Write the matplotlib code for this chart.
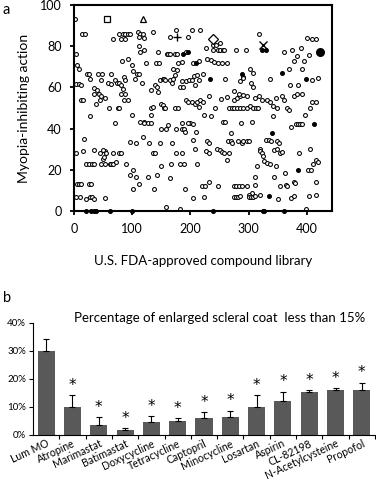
import matplotlib
matplotlib.use("Agg")
import matplotlib.pyplot as plt
import matplotlib.transforms as mtransforms
import numpy as np

plt.rcParams['font.family'] = ['Lato', 'DejaVu Sans']

# ---- panel a: screening scatter (compound index, myopia-inhibiting action) ----
open_x = [1, 14, 19, 67, 81, 88, 78, 84, 88, 92, 96, 110, 113, 118, 112, 120, 135, 165, 175, 196, 202,
          4, 5, 8, 112, 120, 113, 83, 93, 99, 101, 123, 141, 146, 144, 159, 162, 164, 173, 176, 193, 179, 185, 205, 170,
          3, 8, 12, 22, 25, 27, 34, 39, 35, 41, 48, 46, 43, 46, 64, 58, 64, 70, 73, 77, 81, 81, 87, 84, 85, 88,
          104, 108, 112, 116, 133, 139, 142, 148, 152, 155, 157, 145, 165, 170, 173, 176, 168, 185, 182, 188, 192,
          198, 202, 206, 211, 215, 208,
          12, 15, 28, 38, 44, 53, 60, 76, 78, 70, 85, 92, 99, 113, 120, 127, 133, 135, 150, 153, 155, 157, 173, 179,
          200, 205, 193, 196, 202, 208, 211, 215,
          216, 239, 244, 250, 239, 248, 251, 255, 258, 227, 278, 296, 318, 400, 408, 415, 360, 375, 389, 377, 383,
          395, 403, 228, 235, 241, 248, 254, 262, 215, 303, 307, 291, 370, 392, 337, 409, 419, 371, 385, 222, 260,
          285, 291, 304, 307, 216, 222, 231, 242, 252, 262, 274, 280, 285, 291, 297, 274, 283, 267, 271, 275, 280,
          285, 291, 297, 303, 307, 313, 316, 311, 317, 323, 331, 337, 342, 349, 342, 346, 357, 360, 366, 369, 377,
          383, 392, 409, 415, 406, 396, 223, 235, 255, 259, 287, 305, 372, 381, 385, 388, 392,
          2.6, 4, 9.5, 5, 8, 12, 18, 15, 20, 25, 25.6, 29.6, 20, 27, 31, 35, 34, 31, 34, 47, 50, 52.6, 54, 51, 55.5,
          61, 64, 67, 72, 44, 50, 67, 77, 80, 53, 90, 96, 97, 101, 106, 101, 107, 112, 118, 120, 133, 133, 127, 129,
          136, 139, 137, 142, 147, 149, 150, 158, 162, 165, 166, 169, 158, 175, 186, 189, 175, 185, 182, 189, 185,
          196, 182, 190, 209, 205, 208, 211, 204,
          191, 228, 231, 227, 231, 246, 250, 254, 258, 267, 262, 265, 269, 271, 270, 282, 288, 291, 297, 301, 319,
          320, 323, 324, 327, 332, 336, 314, 330, 334, 338, 348, 352, 343, 348, 354, 357, 346, 386, 406, 411, 415,
          419, 401, 407, 311, 311, 306, 300, 363, 343, 354, 364, 366, 377, 380, 415, 219, 225, 232, 247, 275, 279,
          284, 288, 297, 223, 275, 279, 281, 285, 301, 304, 307, 311, 320, 350, 372, 377, 403, 415, 399]
open_y = [93, 86, 86, 83.5, 83.5, 83.5, 86, 86, 86, 86, 86, 87, 86, 86, 84.5, 84, 87, 84.5, 88, 84.3, 88,
          76, 71, 69, 80, 78, 77, 73, 74, 71, 68, 72, 72, 72, 77, 76, 76, 76, 76, 76, 77, 72, 72.5, 71.7, 69,
          61.6, 61.6, 61, 66.5, 66.5, 64, 59.5, 58.7, 57, 66.5, 66.5, 63.6, 57, 56, 66.5, 62, 61.6, 63.6, 62, 62,
          61, 57, 57, 59, 65, 63.6,
          64, 66.5, 66.5, 62, 58.7, 61, 60, 63.6, 64, 64, 63.6, 58, 63.6, 64, 66, 68.5, 62, 63, 60, 60, 63,
          63.6, 63.6, 65.5, 66, 63.6, 61,
          54, 54, 46, 52, 54, 55, 50, 50, 50, 42.5, 54, 54, 46.6, 43, 43, 42.5, 50, 50.6, 52, 51.5, 50, 50, 50, 50,
          42.5, 42.2, 54, 53, 53, 52, 53, 50.6,
          88, 80.6, 80.6, 81.5, 78, 78, 78, 78, 78, 79, 78, 78, 86, 84, 83.5, 83.5, 77, 78, 79, 73, 75,
          73, 75.5, 73.6, 73.3, 72.5, 71.7, 71.7, 71.7, 73, 69, 67, 65, 69, 69, 64, 63.6, 64.5, 61, 61, 66.5, 64,
          63, 64.5, 62, 60, 54, 53, 55.8, 50, 54.5, 55.5, 54, 55, 56, 56.5, 55.8, 58.4, 57, 50, 50, 50, 50,
          50, 50, 50, 51, 50, 50, 50, 55, 56, 54, 54, 53, 51, 50, 46, 55, 56, 54, 50, 49, 56,
          57, 57, 53, 53, 50, 46.6, 46.6, 46, 43, 43, 42.5, 43.4, 41, 42, 42, 42, 42,
          28, 7, 7, 13, 13, 13, 35, 29, 23, 23, 13, 13, 6, 6.6, 6.6, 6, 29.6, 23, 23, 23, 25, 23, 29, 26, 28,
          23, 23, 23, 23.6, 28, 29.6, 28.3, 28.3, 28.3, 6.5, 23, 33.6, 17.5, 20, 16.7, 10.5, 33, 13, 36, 42.5, 42.5,
          46.6, 16.7, 33, 28.3, 28.3, 10.5, 17.5, 33, 21.8, 39.6, 39.6, 41.7, 15.9, 23, 33, 2, 39.6, 39.6, 39.6,
          28, 28.3, 23, 23, 42.5, 42.5, 0.8, 10.5, 38.5, 34.5, 30, 23, 6.5,
          38.5, 34, 33, 29, 28.3, 30, 29.6, 28.8, 28.3, 28.3, 24.8, 34, 34, 33, 38, 34, 33, 34, 34, 34, 30,
          29, 28.3, 26.7, 24.4, 23.5, 23, 21.8, 34.5, 34.5, 34, 34, 33, 29.6, 30, 28.3, 28.8, 22, 28.3, 30, 23, 24.8,
          24, 20, 20, 16.7, 12.6, 8.9, 7.8, 18.3, 16.7, 12, 12.6, 12, 14.2, 13.7, 14.2, 12, 12, 14.2, 12, 12, 12,
          12, 12, 12, 6.6, 6.6, 6.6, 6.6, 7.3, 6.6, 6.6, 6.6, 7.3, 7.8, 5.7, 6.1, 7.3, 7.3, 7.8, 0.8]

filled_x = [187, 210, 234, 288, 357, 398, 412, 323, 329, 340, 384, 334, 196,
            21, 30, 34, 38, 61, 99, 239, 324, 327, 360]
filled_y = [76, 72, 64, 66.5, 67, 64, 42, 78, 78, 37.7, 20, 7.3, 77,
            0, 0, 0, 0, 0, 0, 0, 0, 0, 0]

# reference compounds drawn with their own symbols
ref_markers = ['s', '^', '+', 'D', 'x', 'o']
ref_x = [57, 118, 176, 238, 325, 422]
ref_y = [93, 93, 84.5, 83.5, 80.5, 77]

# ---- panel b: percentage of enlarged scleral coat ----
drugs = ['Lum MO', 'Atropine', 'Marimastat', 'Batimastat', 'Doxycycline', 'Tetracycline',
         'Captopril', 'Minocycline', 'Losartan', 'Aspirin', 'CL-82198', 'N-Acetylcysteine', 'Propofol']
pct = [30.0, 10.1, 3.6, 1.7, 4.5, 5.0, 6.0, 6.6, 10.1, 12.3, 15.3, 16.0, 16.0]
err = [4.3, 4.2, 2.7, 0.8, 2.3, 1.0, 2.1, 2.1, 4.1, 3.2, 0.8, 0.7, 2.7]
signif = [False] + [True] * 12

fig = plt.figure(figsize=(3.76, 4.84), dpi=100)

ax = fig.add_axes([74 / 376, 1 - 211 / 484, 258 / 376, 206 / 484])
ax.plot(open_x, open_y, linestyle='none', marker='o', ms=2.8, mfc='white', mec='black', mew=0.75, clip_on=False)
ax.plot(filled_x, filled_y, linestyle='none', marker='o', ms=2.8, mfc='black', mec='black', mew=0.75, clip_on=False)
for m, xx, yy in zip(ref_markers, ref_x, ref_y):
    if m == 'o':
        ax.plot(xx, yy, marker='o', ms=5.5, color='black')
    elif m in ('+', 'x'):
        ax.plot(xx, yy, marker=m, ms=5.5, color='black', mew=1.0)
    else:
        ax.plot(xx, yy, marker=m, ms=5, mfc='white', mec='black', mew=0.9)
ax.set_xlim(0, 443)
ax.set_ylim(0, 100)
ax.set_xticks([0, 100, 200, 300, 400])
ax.set_yticks([0, 20, 40, 60, 80, 100])
ax.tick_params(direction='out', length=3, width=1.3, labelsize=9, pad=6)
for s in ax.spines.values():
    s.set_linewidth(1.5)
ax.set_ylabel('Myopia-inhibiting action', fontsize=10, labelpad=7)
ax.set_xlabel('U.S. FDA-approved compound library', fontsize=9.5, labelpad=14)
fig.text(3 / 376, 1 - 10 / 484, 'a', fontsize=10.5, va='center')

bx = fig.add_axes([33 / 376, 1 - 435 / 484, 342 / 376, 112 / 484])
pos = np.arange(len(drugs))
bx.bar(pos, pct, width=0.65, color='#595959', zorder=2)
bx.errorbar(pos, pct, yerr=[np.zeros(len(err)), err], fmt='none', ecolor='black',
            elinewidth=0.8, capsize=2.5, capthick=0.8, zorder=3)
for p, v, e, s in zip(pos, pct, err, signif):
    if s:
        bx.text(p, v + e + 0.8, '*', ha='center', va='bottom', fontsize=11, family='DejaVu Sans')
bx.set_xlim(-0.5, len(drugs) - 0.5)
bx.set_ylim(0, 40)
bx.set_yticks([0, 10, 20, 30, 40])
bx.set_yticklabels(['0%', '10%', '20%', '30%', '40%'])
bx.set_xticks(pos)
bx.set_xticklabels(drugs, rotation=25, ha='right', va='top', rotation_mode='anchor', fontsize=7.6)
shift = mtransforms.ScaledTranslation(4 / 100, 0, fig.dpi_scale_trans)
for lab in bx.get_xticklabels():
    lab.set_transform(lab.get_transform() + shift)
bx.set_xticks(pos + 0.5, minor=True)
bx.tick_params(axis='x', which='major', length=0, pad=2)
bx.tick_params(axis='x', which='minor', length=3, width=0.8)
bx.tick_params(axis='y', length=3, width=0.8, labelsize=7, pad=2)
bx.spines['top'].set_visible(False)
bx.spines['right'].set_visible(False)
bx.spines['left'].set_linewidth(0.8)
bx.spines['bottom'].set_linewidth(0.8)
bx.text(0.547, 1.045, 'Percentage of enlarged scleral coat  less than 15%', transform=bx.transAxes,
        ha='center', va='center', fontsize=9.5)
fig.text(3 / 376, 1 - 298 / 484, 'b', fontsize=10.5, va='center')

fig.savefig('out.png', dpi=100)
